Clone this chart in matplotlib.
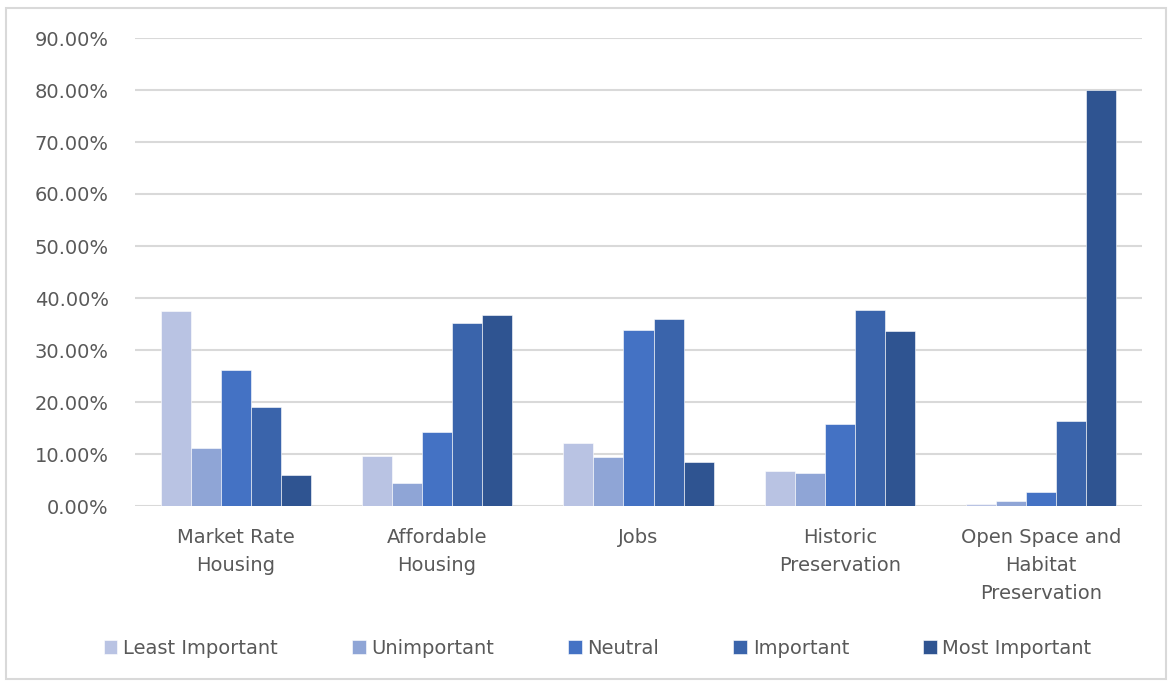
import matplotlib.pyplot as plt
from matplotlib.patches import Rectangle
from matplotlib.ticker import FuncFormatter
import numpy as np

categories = ['Market Rate\nHousing', 'Affordable\nHousing', 'Jobs',
              'Historic\nPreservation', 'Open Space and\nHabitat\nPreservation']
series_names = ['Least Important', 'Unimportant', 'Neutral', 'Important', 'Most Important']
least_important = [37.5, 9.6, 12.1, 6.7, 0.3]
unimportant = [11.2, 4.4, 9.4, 6.3, 0.9]
neutral = [26.2, 14.2, 33.8, 15.8, 2.7]
important = [19.0, 35.2, 36.0, 37.7, 16.3]
most_important = [6.0, 36.7, 8.5, 33.7, 80.0]
colors = ['#B9C3E3', '#8FA5D6', '#4472C4', '#3A64AB', '#2F5491']

plt.rcParams['font.family'] = ['DejaVu Sans']
txt = '#595959'

fig = plt.figure(figsize=(11.72, 6.81), dpi=100)
fig.patches.append(Rectangle((6 / 1172, 2 / 681), 1160 / 1172, 671 / 681,
                             transform=fig.transFigure, fill=False,
                             edgecolor='#D9D9D9', linewidth=1.5))
ax = fig.add_axes([135 / 1172, 1 - 506 / 681, 1007 / 1172, 468 / 681])

x = np.arange(len(categories))
width = 0.149
all_series = [least_important, unimportant, neutral, important, most_important]
for i, (vals, name, c) in enumerate(zip(all_series, series_names, colors)):
    ax.bar(x + (i - 2) * width, np.array(vals) / 100, width, color=c, label=name,
           edgecolor='white', linewidth=0.4, zorder=3)

ax.set_xlim(-0.5, len(categories) - 0.5)
ax.set_ylim(0, 0.9)
ax.set_yticks(np.arange(0, 0.91, 0.1))
ax.yaxis.set_major_formatter(FuncFormatter(lambda v, p: f'{v * 100:.2f}%'))
ax.grid(axis='y', color='#D9D9D9', linewidth=1.5, zorder=0)
ax.set_axisbelow(True)
for s in ax.spines.values():
    s.set_visible(False)
ax.tick_params(axis='both', length=0, colors=txt, labelsize=14)
ax.tick_params(axis='y', pad=19)
ax.tick_params(axis='x', pad=16)
ax.set_xticks(x)
ax.set_xticklabels(categories, linespacing=1.6)
for lab in ax.get_xticklabels() + ax.get_yticklabels():
    lab.set_color(txt)

leg = fig.legend(loc='center', bbox_to_anchor=(0.51, 1 - 648 / 681), ncol=5,
                 frameon=False, fontsize=14, handlelength=0.7, handleheight=0.7,
                 handletextpad=0.3, columnspacing=3.8)
for t in leg.get_texts():
    t.set_color(txt)

fig.savefig('out.png', dpi=100)
